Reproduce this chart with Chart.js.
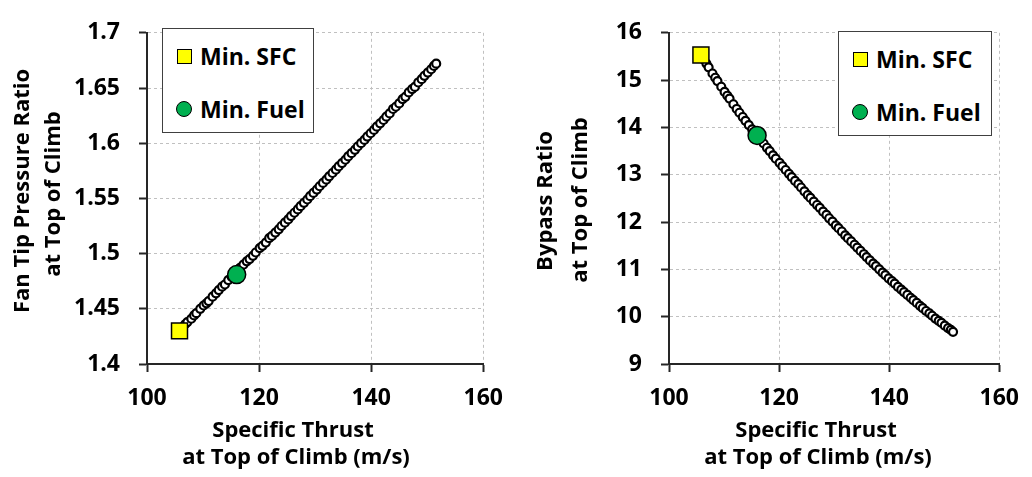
<!DOCTYPE html>
<html lang="en">
<head>
<meta charset="UTF-8">
<title>Specific thrust vs fan pressure ratio and bypass ratio</title>
<script src="https://cdn.jsdelivr.net/npm/chart.js"></script>
<style>
  body { margin: 0; background: #fff; }
  #wrap { position: relative; width: 1032px; height: 477px; overflow: hidden;
          font-family: "Open Sans", sans-serif; font-weight: 700; color: #000; }
  canvas { position: absolute; top: 0; }
  .ttl { position: absolute; font-size: 22px; line-height: 22px; white-space: nowrap;
         transform: translate(-50%, -50%); }
  .ttl.rot { transform: translate(-50%, -50%) rotate(-90deg); }
  .legend { position: absolute; box-sizing: border-box; height: 105px; background: #fff;
            border: 1.5px solid #404040; }
  .legend .row { position: absolute; left: 13px; height: 24px; display: flex; align-items: center;
                 font-size: 23px; line-height: 24px; white-space: nowrap; }
  .legend .mk { width: 16px; display: flex; justify-content: center; margin-right: 8px; }
  .legend .sq { width: 13px; height: 13px; background: #ffff00; border: 1.5px solid #000; }
  .legend .ci { width: 14px; height: 14px; background: #00b050; border: 1.5px solid #000; border-radius: 50%; }
</style>
</head>
<body>
<div id="wrap">
  <canvas id="fprChart" width="516" height="477" style="left:0"></canvas>
  <canvas id="bprChart" width="516" height="477" style="left:516px"></canvas>

  <div class="ttl rot" style="left:20px; top:191px">Fan Tip Pressure Ratio</div>
  <div class="ttl rot" style="left:51px; top:194px">at Top of Climb</div>
  <div class="ttl" style="left:293px; top:428px">Specific Thrust</div>
  <div class="ttl" style="left:296px; top:455px">at Top of Climb (m/s)</div>

  <div class="ttl rot" style="left:543px; top:201px">Bypass Ratio</div>
  <div class="ttl rot" style="left:578px; top:200px">at Top of Climb</div>
  <div class="ttl" style="left:816px; top:428px">Specific Thrust</div>
  <div class="ttl" style="left:818px; top:455px">at Top of Climb (m/s)</div>

  <div class="legend" id="legendL" style="left:162px; top:28px; width:152px"></div>
  <div class="legend" id="legendR" style="left:838px; top:31px; width:154px"></div>
</div>

<script>
// design points (same engines in both panels)
const specificThrust = [106.3, 106.8, 107.2, 107.9, 108.4, 108.8, 109.5, 110.1, 110.6, 111.0,
  111.7, 112.3, 112.8, 113.4, 113.9, 114.5, 115.1, 115.5, 116.6, 117.2,
  117.8, 118.3, 118.9, 119.4, 120.1, 120.6, 121.2, 121.8, 122.3, 122.9,
  123.5, 124.0, 124.6, 125.2, 125.7, 126.3, 126.9, 127.4, 128.0, 128.6,
  129.1, 129.7, 130.3, 130.8, 131.4, 132.0, 132.5, 133.1, 133.7, 134.2,
  134.8, 135.4, 135.9, 136.5, 137.1, 137.6, 138.2, 138.8, 139.3, 139.9,
  140.5, 141.0, 141.6, 142.2, 142.7, 143.3, 143.9, 144.4, 145.0, 145.6,
  146.1, 146.7, 147.3, 147.8, 148.4, 149.0, 149.5, 150.1, 150.7, 151.2, 151.6];

const fanPressureRatio = [1.433, 1.436, 1.438, 1.441, 1.444, 1.446, 1.450, 1.453, 1.455, 1.457,
  1.461, 1.464, 1.467, 1.470, 1.472, 1.476, 1.479, 1.481, 1.487, 1.490,
  1.493, 1.495, 1.498, 1.501, 1.505, 1.507, 1.510, 1.514, 1.516, 1.519,
  1.522, 1.525, 1.528, 1.531, 1.534, 1.537, 1.540, 1.543, 1.546, 1.549,
  1.552, 1.555, 1.558, 1.561, 1.564, 1.567, 1.570, 1.573, 1.576, 1.579,
  1.582, 1.585, 1.588, 1.591, 1.594, 1.597, 1.600, 1.603, 1.606, 1.609,
  1.612, 1.615, 1.618, 1.621, 1.624, 1.627, 1.631, 1.633, 1.636, 1.640,
  1.642, 1.646, 1.649, 1.651, 1.655, 1.658, 1.661, 1.664, 1.667, 1.670, 1.672];

const bypassRatio = [15.44, 15.35, 15.27, 15.14, 15.05, 14.98, 14.86, 14.75, 14.67, 14.61,
  14.49, 14.39, 14.31, 14.22, 14.14, 14.05, 13.96, 13.90, 13.74, 13.66,
  13.57, 13.50, 13.41, 13.34, 13.25, 13.18, 13.10, 13.02, 12.95, 12.87,
  12.80, 12.73, 12.65, 12.57, 12.51, 12.43, 12.36, 12.30, 12.22, 12.15,
  12.08, 12.01, 11.93, 11.87, 11.80, 11.72, 11.66, 11.59, 11.52, 11.46,
  11.39, 11.32, 11.26, 11.19, 11.12, 11.07, 11.00, 10.93, 10.88, 10.81,
  10.75, 10.70, 10.63, 10.57, 10.52, 10.46, 10.40, 10.35, 10.29, 10.23,
  10.18, 10.12, 10.07, 10.02, 9.96, 9.91, 9.87, 9.81, 9.76, 9.72, 9.68];

// the two highlighted optima
const optimumLabels = ['Min. SFC', 'Min. Fuel'];
const optimumThrust = [105.8, 116.0];
const optimumFpr = [1.430, 1.481];
const optimumBpr = [15.53, 13.83];

// tick labels
const thrustTicks = [100, 120, 140, 160];
const fprTicks = [1.4, 1.45, 1.5, 1.55, 1.6, 1.65, 1.7];
const bprTicks = [9, 10, 11, 12, 13, 14, 15, 16];

const optimumStyles = [
  { pointStyle: 'rect', pointRadius: 11.3, pointBackgroundColor: '#ffff00' },
  { pointStyle: 'circle', pointRadius: 9, pointBackgroundColor: '#00b050' }
];

function axisOptions(ticks, size, horizontal) {
  return {
    type: 'linear',
    min: ticks[0],
    max: ticks[ticks.length - 1],
    afterBuildTicks: function (scale) {
      scale.ticks = ticks.map(function (v) { return { value: v }; });
    },
    afterFit: function (scale) {
      if (horizontal) scale.height = size; else scale.width = size;
    },
    grid: { color: '#c0c0c0', lineWidth: 1, tickLength: 8, tickColor: '#262626', tickWidth: 2 },
    border: { color: '#262626', width: 2, dash: [3, 3] },
    ticks: {
      color: '#000',
      font: { family: 'Open Sans', weight: 'bold', size: 23 },
      padding: horizontal ? 13 : 19,
      autoSkip: false,
      maxRotation: 0,
      callback: function (v) { return String(v); }
    }
  };
}

function buildChart(id, yValues, optY, yTicks, yAxisWidth, rightPad) {
  var datasets = optimumLabels.map(function (lbl, i) {
    return Object.assign({
      label: lbl,
      data: [{ x: optimumThrust[i], y: optY[i] }],
      pointBorderColor: '#000',
      pointBorderWidth: 1.5
    }, optimumStyles[i]);
  });
  datasets.push({
    label: 'Designs',
    data: specificThrust.map(function (x, i) { return { x: x, y: yValues[i] }; }),
    pointRadius: 4,
    pointBackgroundColor: '#fff',
    pointBorderColor: '#000',
    pointBorderWidth: 2.2
  });

  return new Chart(document.getElementById(id), {
    type: 'scatter',
    data: { datasets: datasets },
    options: {
      responsive: false,
      animation: false,
      events: [],
      layout: { padding: { top: 20, right: rightPad, left: 0, bottom: 0 } },
      plugins: { legend: { display: false }, tooltip: { enabled: false } },
      scales: {
        x: axisOptions(thrustTicks, 113, true),
        y: axisOptions(yTicks, yAxisWidth, false)
      }
    }
  });
}

function buildLegend(id) {
  var box = document.getElementById(id);
  var shapes = ['sq', 'ci'];
  var tops = [15, 68];
  optimumLabels.forEach(function (lbl, i) {
    var row = document.createElement('div');
    row.className = 'row';
    row.style.top = tops[i] + 'px';
    row.innerHTML = '<span class="mk"><span class="' + shapes[i] + '"></span></span><span>' + lbl + '</span>';
    box.appendChild(row);
  });
}

buildChart('fprChart', fanPressureRatio, optimumFpr, fprTicks, 147, 32);
buildChart('bprChart', bypassRatio, optimumBpr, bprTicks, 153, 26);
buildLegend('legendL');
buildLegend('legendR');
</script>
</body>
</html>
